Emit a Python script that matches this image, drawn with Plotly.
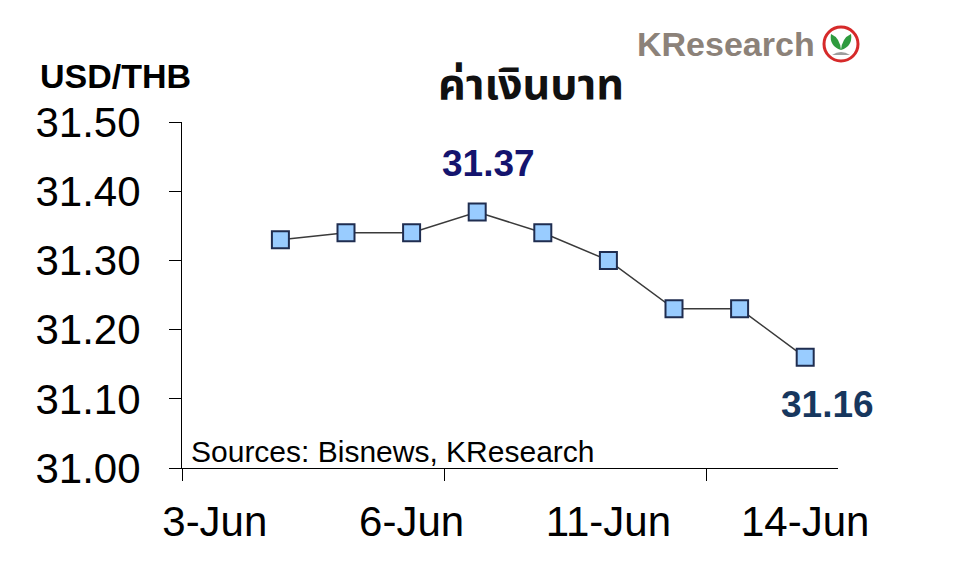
import plotly.graph_objects as go

# category slots along the x axis (3-Jun has no quote)
dates = ["3-Jun", "4-Jun", "5-Jun", "6-Jun", "7-Jun",
         "10-Jun", "11-Jun", "12-Jun", "13-Jun", "14-Jun"]
usd_thb = [None, 31.33, 31.34, 31.34, 31.37, 31.34, 31.30, 31.23, 31.23, 31.16]

label_dates = ["3-Jun", "6-Jun", "11-Jun", "14-Jun"]
tick_mark_every = 4          # tick marks on every 4th category boundary
y_ticks = [31.00, 31.10, 31.20, 31.30, 31.40, 31.50]

# page puts the figure 8px in from the top-left corner
OFF = 8
W, H = 960 - OFF, 580 - OFF
X0, X1, Y0, Y1 = 182, 838, 122, 468      # plot area in page pixels
L, R, T, B = X0 - OFF, 960 - X1, Y0 - OFF, 580 - Y1


def px(x):
    return (x - X0) / (X1 - X0)


def py(y):
    return (Y1 - y) / (Y1 - Y0)


FONT = "Liberation Sans, Arial, sans-serif"
THAI_FONT = "Noto Sans Thai, Noto Sans Thai UI, Tahoma, Waree, Loma, sans-serif"

fig = go.Figure()
fig.add_trace(
    go.Scatter(
        x=dates,
        y=usd_thb,
        mode="lines+markers",
        line=dict(color="#3a3a3a", width=1.5),
        marker=dict(symbol="square", size=17, color="#99CCFF",
                    line=dict(color="#1F2D50", width=2)),
        showlegend=False,
        hoverinfo="x+y",
    )
)
# invisible copy on the index axis that carries the boundary tick marks
fig.add_trace(
    go.Scatter(
        x=list(range(len(dates))),
        y=usd_thb,
        xaxis="x2",
        mode="markers",
        marker=dict(opacity=0),
        showlegend=False,
        hoverinfo="skip",
    )
)

# peak and latest value labels
vals = [v for v in usd_thb if v is not None]
peak = max(vals)
peak_date = dates[usd_thb.index(peak)]
last = vals[-1]
last_date = dates[len(usd_thb) - 1 - usd_thb[::-1].index(last)]

annotations = [
    dict(x=peak_date, y=peak, xref="x", yref="y", text=f"<b>{peak:.2f}</b>",
         showarrow=False, xshift=11, yshift=48,
         font=dict(family=FONT, size=37, color="#14146E")),
    dict(x=last_date, y=last, xref="x", yref="y", text=f"<b>{last:.2f}</b>",
         showarrow=False, xshift=22, yshift=-47,
         font=dict(family=FONT, size=37, color="#17375E")),
    dict(x=px(38), y=py(76), xref="paper", yref="paper", text="<b>USD/THB</b>",
         showarrow=False, xanchor="left", yanchor="middle",
         font=dict(family=FONT, size=34, color="black")),
    dict(x=px(189), y=py(451), xref="paper", yref="paper",
         text="Sources: Bisnews, KResearch",
         showarrow=False, xanchor="left", yanchor="middle",
         font=dict(family=FONT, size=30, color="black")),
    dict(x=px(817), y=py(44), xref="paper", yref="paper", text="<b>KResearch</b>",
         showarrow=False, xanchor="right", yanchor="middle",
         font=dict(family=FONT, size=34, color="#8C8279")),
]

# KResearch logo mark
cx, cy, r = 841, 44, 17
shapes = [
    dict(type="circle", xref="paper", yref="paper",
         x0=px(cx - r), x1=px(cx + r), y0=py(cy + r), y1=py(cy - r),
         line=dict(color="#D62A2A", width=3), fillcolor="white"),
    dict(type="path", xref="paper", yref="paper",
         path=(f"M {px(cx)} {py(cy + 6)} Q {px(cx - 12)} {py(cy + 2)} {px(cx - 10)} {py(cy - 10)} "
               f"Q {px(cx - 1)} {py(cy - 6)} {px(cx)} {py(cy + 6)} Z"),
         line=dict(width=0), fillcolor="#2E9B3E"),
    dict(type="path", xref="paper", yref="paper",
         path=(f"M {px(cx)} {py(cy + 6)} Q {px(cx + 12)} {py(cy + 2)} {px(cx + 10)} {py(cy - 10)} "
               f"Q {px(cx + 1)} {py(cy - 6)} {px(cx)} {py(cy + 6)} Z"),
         line=dict(width=0), fillcolor="#2E9B3E"),
    dict(type="path", xref="paper", yref="paper",
         path=f"M {px(cx - 9)} {py(cy + 11)} Q {px(cx)} {py(cy + 5)} {px(cx + 9)} {py(cy + 11)} Z",
         line=dict(width=0), fillcolor="#9E9E9E"),
]

fig.update_layout(
    width=W,
    height=H,
    margin=dict(l=L, r=R, t=T, b=B),
    paper_bgcolor="white",
    plot_bgcolor="white",
    title=dict(text="<b>ค่าเงินบาท</b>", x=(531 - OFF) / W,
               xanchor="center", y=1 - (84 - OFF) / H, yanchor="middle",
               font=dict(family=THAI_FONT, size=43, color="#111111")),
    xaxis=dict(
        type="category",
        categoryorder="array",
        categoryarray=dates,
        range=[-0.5, len(dates) - 0.5],
        tickvals=label_dates,
        ticks="outside",
        ticklen=17,
        tickcolor="rgba(0,0,0,0)",
        tickfont=dict(family=FONT, size=42, color="black"),
        showline=True,
        linecolor="black",
        linewidth=1,
        showgrid=False,
        zeroline=False,
    ),
    xaxis2=dict(
        overlaying="x",
        anchor="y",
        side="bottom",
        range=[-0.5, len(dates) - 0.5],
        tickvals=[b - 0.5 for b in range(0, len(dates), tick_mark_every)],
        ticks="outside",
        ticklen=12,
        tickcolor="black",
        showticklabels=False,
        showline=False,
        showgrid=False,
        zeroline=False,
    ),
    yaxis=dict(
        range=[31.0, 31.5],
        tickvals=y_ticks,
        tickformat=".2f",
        ticks="outside",
        ticklen=12,
        tickcolor="black",
        ticklabelstandoff=20,
        tickfont=dict(family=FONT, size=42, color="black"),
        showline=True,
        linecolor="black",
        linewidth=1,
        showgrid=False,
        zeroline=False,
    ),
    annotations=annotations,
    shapes=shapes,
)

fig.write_html("out.html")
